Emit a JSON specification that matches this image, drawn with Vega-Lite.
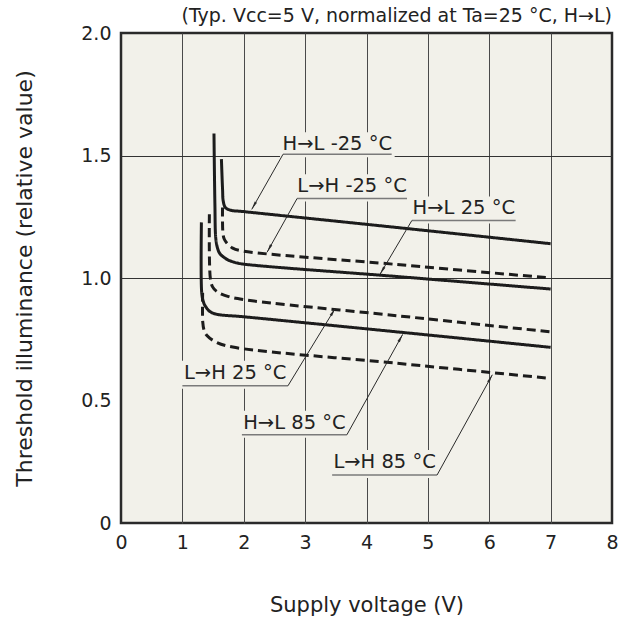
{
  "$schema": "https://vega.github.io/schema/vega-lite/v6.json",
  "width": 491,
  "height": 490,
  "autosize": {"type": "none"},
  "padding": {"left": 121, "top": 33, "right": 16, "bottom": 100},
  "background": "#ffffff",
  "config": {
    "font": "DejaVu Sans",
    "view": {"fill": "#f2f1ea", "stroke": "#2a2a2a", "strokeWidth": 2.5}
  },
  "title": {
    "text": "(Typ. Vcc=5 V, normalized at Ta=25 °C, H→L)",
    "anchor": "end",
    "frame": "group",
    "fontSize": 19,
    "fontWeight": "normal",
    "color": "#222222",
    "offset": 5,
    "dy": 7
  },
  "datasets": {
    "curves": [
      {"series": "H→L -25 °C", "dir": "H→L", "i": 1, "v": 1.636, "e": 1.485},
      {"series": "H→L -25 °C", "dir": "H→L", "i": 2, "v": 1.655, "e": 1.36},
      {"series": "H→L -25 °C", "dir": "H→L", "i": 3, "v": 1.665, "e": 1.315},
      {"series": "H→L -25 °C", "dir": "H→L", "i": 4, "v": 1.70, "e": 1.288},
      {"series": "H→L -25 °C", "dir": "H→L", "i": 5, "v": 1.78, "e": 1.277},
      {"series": "H→L -25 °C", "dir": "H→L", "i": 6, "v": 2.0, "e": 1.271},
      {"series": "H→L -25 °C", "dir": "H→L", "i": 7, "v": 4.5, "e": 1.206},
      {"series": "H→L -25 °C", "dir": "H→L", "i": 8, "v": 7.0, "e": 1.14},

      {"series": "L→H -25 °C", "dir": "L→H", "i": 1, "v": 1.654, "e": 1.288},
      {"series": "L→H -25 °C", "dir": "L→H", "i": 2, "v": 1.66, "e": 1.186},
      {"series": "L→H -25 °C", "dir": "L→H", "i": 3, "v": 1.68, "e": 1.16},
      {"series": "L→H -25 °C", "dir": "L→H", "i": 4, "v": 1.72, "e": 1.144},
      {"series": "L→H -25 °C", "dir": "L→H", "i": 5, "v": 1.82, "e": 1.122},
      {"series": "L→H -25 °C", "dir": "L→H", "i": 6, "v": 1.94, "e": 1.112},
      {"series": "L→H -25 °C", "dir": "L→H", "i": 7, "v": 4.5, "e": 1.055},
      {"series": "L→H -25 °C", "dir": "L→H", "i": 8, "v": 7.0, "e": 1.0},

      {"series": "H→L 25 °C", "dir": "H→L", "i": 1, "v": 1.515, "e": 1.59},
      {"series": "H→L 25 °C", "dir": "H→L", "i": 2, "v": 1.53, "e": 1.30},
      {"series": "H→L 25 °C", "dir": "H→L", "i": 3, "v": 1.545, "e": 1.16},
      {"series": "H→L 25 °C", "dir": "H→L", "i": 4, "v": 1.575, "e": 1.12},
      {"series": "H→L 25 °C", "dir": "H→L", "i": 5, "v": 1.61, "e": 1.10},
      {"series": "H→L 25 °C", "dir": "H→L", "i": 6, "v": 1.72, "e": 1.077},
      {"series": "H→L 25 °C", "dir": "H→L", "i": 7, "v": 1.85, "e": 1.064},
      {"series": "H→L 25 °C", "dir": "H→L", "i": 8, "v": 1.99, "e": 1.057},
      {"series": "H→L 25 °C", "dir": "H→L", "i": 9, "v": 4.5, "e": 1.006},
      {"series": "H→L 25 °C", "dir": "H→L", "i": 10, "v": 7.0, "e": 0.955},

      {"series": "L→H 25 °C", "dir": "L→H", "i": 1, "v": 1.44, "e": 1.26},
      {"series": "L→H 25 °C", "dir": "L→H", "i": 2, "v": 1.455, "e": 1.0},
      {"series": "L→H 25 °C", "dir": "L→H", "i": 3, "v": 1.49, "e": 0.965},
      {"series": "L→H 25 °C", "dir": "L→H", "i": 4, "v": 1.56, "e": 0.945},
      {"series": "L→H 25 °C", "dir": "L→H", "i": 5, "v": 1.74, "e": 0.925},
      {"series": "L→H 25 °C", "dir": "L→H", "i": 6, "v": 1.99, "e": 0.912},
      {"series": "L→H 25 °C", "dir": "L→H", "i": 7, "v": 4.5, "e": 0.846},
      {"series": "L→H 25 °C", "dir": "L→H", "i": 8, "v": 7.0, "e": 0.78},

      {"series": "H→L 85 °C", "dir": "H→L", "i": 1, "v": 1.31, "e": 1.227},
      {"series": "H→L 85 °C", "dir": "H→L", "i": 2, "v": 1.315, "e": 0.94},
      {"series": "H→L 85 °C", "dir": "H→L", "i": 3, "v": 1.34, "e": 0.905},
      {"series": "H→L 85 °C", "dir": "H→L", "i": 4, "v": 1.37, "e": 0.887},
      {"series": "H→L 85 °C", "dir": "H→L", "i": 5, "v": 1.45, "e": 0.863},
      {"series": "H→L 85 °C", "dir": "H→L", "i": 6, "v": 1.56, "e": 0.852},
      {"series": "H→L 85 °C", "dir": "H→L", "i": 7, "v": 1.99, "e": 0.842},
      {"series": "H→L 85 °C", "dir": "H→L", "i": 8, "v": 4.5, "e": 0.78},
      {"series": "H→L 85 °C", "dir": "H→L", "i": 9, "v": 7.0, "e": 0.717},

      {"series": "L→H 85 °C", "dir": "L→H", "i": 1, "v": 1.33, "e": 0.94},
      {"series": "L→H 85 °C", "dir": "L→H", "i": 2, "v": 1.332, "e": 0.82},
      {"series": "L→H 85 °C", "dir": "L→H", "i": 3, "v": 1.35, "e": 0.79},
      {"series": "L→H 85 °C", "dir": "L→H", "i": 4, "v": 1.40, "e": 0.765},
      {"series": "L→H 85 °C", "dir": "L→H", "i": 5, "v": 1.56, "e": 0.737},
      {"series": "L→H 85 °C", "dir": "L→H", "i": 6, "v": 1.82, "e": 0.718},
      {"series": "L→H 85 °C", "dir": "L→H", "i": 7, "v": 4.5, "e": 0.652},
      {"series": "L→H 85 °C", "dir": "L→H", "i": 8, "v": 7.0, "e": 0.59}
    ],
    "labels": [
      {"text": "H→L -25 °C", "tx": 3.525, "ty": 1.546, "u1": 2.64, "u2": 4.41, "uy": 1.505, "lx": 2.64, "ly": 1.505, "ax": 2.13, "ay": 1.28},
      {"text": "L→H -25 °C", "tx": 3.765, "ty": 1.374, "u1": 2.87, "u2": 4.66, "uy": 1.325, "lx": 2.87, "ly": 1.325, "ax": 2.38, "ay": 1.105},
      {"text": "H→L 25 °C", "tx": 5.585, "ty": 1.284, "u1": 4.74, "u2": 6.43, "uy": 1.235, "lx": 4.74, "ly": 1.235, "ax": 4.22, "ay": 1.015},
      {"text": "L→H 25 °C", "tx": 1.86, "ty": 0.613, "u1": 1.0, "u2": 2.72, "uy": 0.56, "lx": 2.72, "ly": 0.56, "ax": 3.49, "ay": 0.876},
      {"text": "H→L 85 °C", "tx": 2.825, "ty": 0.409, "u1": 1.97, "u2": 3.68, "uy": 0.36, "lx": 3.68, "ly": 0.36, "ax": 4.59, "ay": 0.77},
      {"text": "L→H 85 °C", "tx": 4.295, "ty": 0.249, "u1": 3.44, "u2": 5.15, "uy": 0.196, "lx": 5.15, "ly": 0.196, "ax": 6.05, "ay": 0.605}
    ]
  },
  "layer": [
    {
      "data": {"name": "labels"},
      "mark": {"type": "rect", "fill": "#f2f1ea", "xOffset": -3, "x2Offset": 3, "yOffset": 3, "y2Offset": -12},
      "encoding": {
        "x": {
          "field": "u1", "type": "quantitative",
          "scale": {"domain": [0, 8], "nice": false, "zero": false},
          "axis": {
            "values": [0, 1, 2, 3, 4, 5, 6, 7, 8],
            "format": "d",
            "title": "Supply voltage (V)",
            "grid": true,
            "gridColor": "#4a4a4a",
            "gridWidth": 1,
            "gridOpacity": {"condition": {"test": "datum.value == 0 || datum.value == 8", "value": 0}, "value": 1},
            "domain": false,
            "ticks": false,
            "labelFontSize": 19,
            "labelPadding": 10,
            "labelColor": "#222222",
            "labelFlush": false,
            "titleFontSize": 21,
            "titleFontWeight": "normal",
            "titleColor": "#222222",
            "titlePadding": 42
          }
        },
        "x2": {"field": "u2"},
        "y": {
          "field": "uy", "type": "quantitative",
          "scale": {"domain": [0, 2], "nice": false, "zero": false},
          "axis": {
            "values": [0, 0.5, 1, 1.5, 2],
            "labelExpr": "datum.value == 0 ? '0' : format(datum.value, '.1f')",
            "title": "Threshold illuminance (relative value)",
            "grid": true,
            "gridColor": "#333333",
            "gridWidth": 1,
            "gridOpacity": {"condition": {"test": "datum.value == 1 || datum.value == 1.5", "value": 1}, "value": 0},
            "domain": false,
            "ticks": false,
            "labelFontSize": 19,
            "labelPadding": 10,
            "labelColor": "#222222",
            "labelFlush": false,
            "titleFontSize": 22,
            "titleFontWeight": "normal",
            "titleColor": "#222222",
            "titlePadding": 44
          }
        },
        "y2": {"field": "ty"}
      }
    },
    {
      "data": {"name": "curves"},
      "mark": {"type": "line", "interpolate": "catmull-rom", "strokeWidth": 3, "color": "#1c1c1c", "strokeCap": "butt"},
      "encoding": {
        "x": {"field": "v", "type": "quantitative", "scale": {"domain": [0, 8], "nice": false, "zero": false}},
        "y": {"field": "e", "type": "quantitative", "scale": {"domain": [0, 2], "nice": false, "zero": false}},
        "detail": {"field": "series"},
        "order": {"field": "i", "type": "quantitative"},
        "strokeDash": {
          "field": "dir", "type": "nominal",
          "scale": {"domain": ["H→L", "L→H"], "range": [[1, 0], [9, 5]]},
          "legend": null
        }
      }
    },
    {
      "data": {"name": "labels"},
      "mark": {"type": "rule", "color": "#7a7a7a", "strokeWidth": 1.5},
      "encoding": {
        "x": {"field": "u1", "type": "quantitative"},
        "x2": {"field": "u2"},
        "y": {"field": "uy", "type": "quantitative"}
      }
    },
    {
      "data": {"name": "labels"},
      "mark": {"type": "rule", "color": "#2a2a2a", "strokeWidth": 1},
      "encoding": {
        "x": {"field": "lx", "type": "quantitative"},
        "x2": {"field": "ax"},
        "y": {"field": "ly", "type": "quantitative"},
        "y2": {"field": "ay"}
      }
    },
    {
      "data": {"name": "labels"},
      "transform": [
        {"calculate": "atan2((datum.ax - datum.lx) * 61.375, (datum.ay - datum.ly) * 245) * 180 / PI", "as": "heading"}
      ],
      "mark": {"type": "point", "shape": "M0,0L0.32,2L-0.32,2Z", "filled": true, "color": "#2a2a2a", "opacity": 1, "size": 70},
      "encoding": {
        "x": {"field": "ax", "type": "quantitative"},
        "y": {"field": "ay", "type": "quantitative"},
        "angle": {"field": "heading", "type": "quantitative", "scale": null}
      }
    },
    {
      "data": {"name": "labels"},
      "mark": {"type": "text", "fontSize": 19.5, "color": "#222222", "align": "center", "baseline": "middle"},
      "encoding": {
        "x": {"field": "tx", "type": "quantitative"},
        "y": {"field": "ty", "type": "quantitative"},
        "text": {"field": "text"}
      }
    }
  ]
}
